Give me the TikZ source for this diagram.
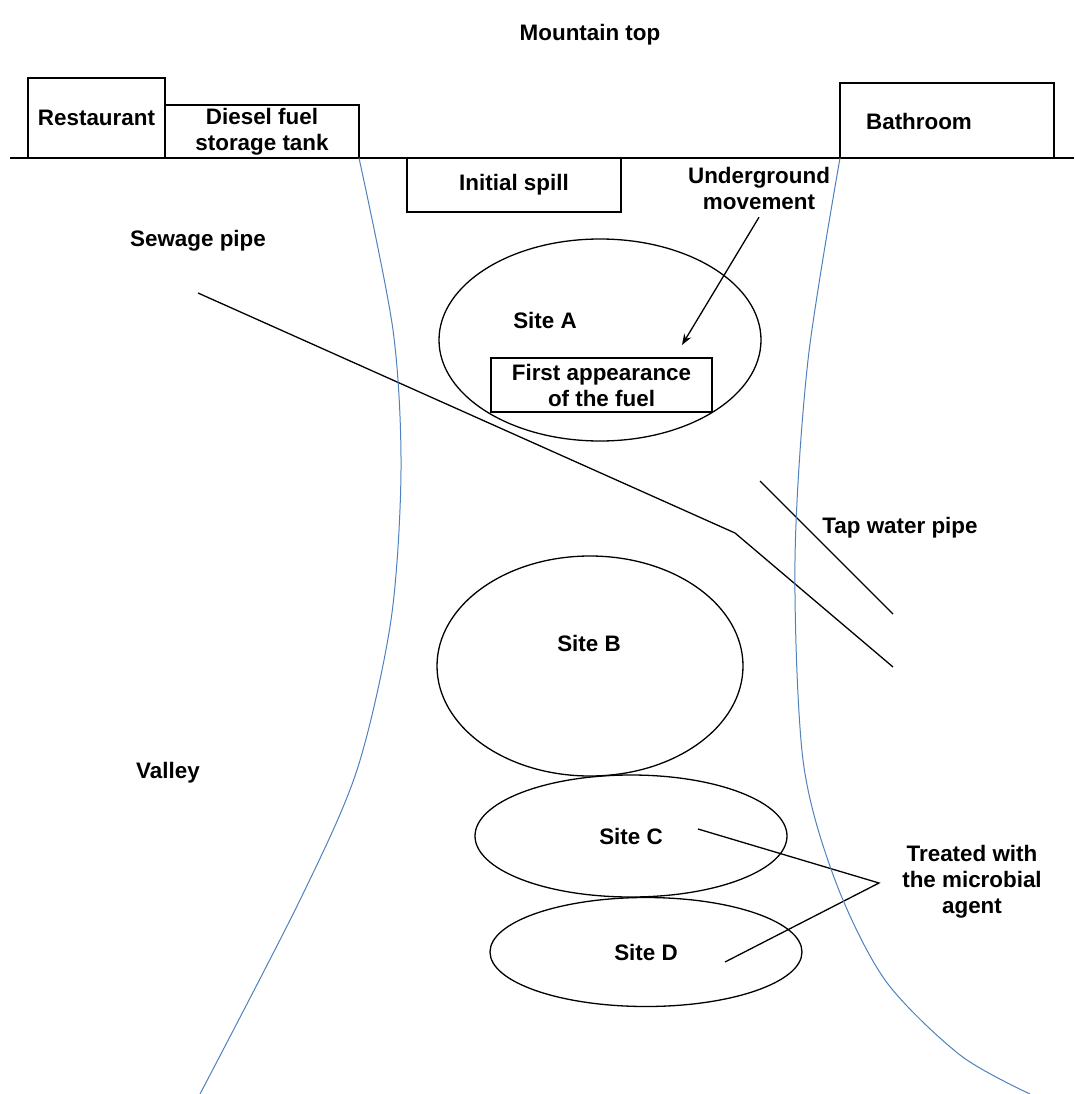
\documentclass[tikz,border=0pt]{standalone}
\usepackage{fontspec}
\setmainfont{Liberation Sans}
\usepackage{xcolor}
\usetikzlibrary{positioning}
\usetikzlibrary{shapes.geometric,arrows.meta}
\definecolor{valleyblue}{RGB}{79,129,189}

\begin{document}
\begin{tikzpicture}[x=1pt, y=-1pt, every node/.style={inner sep=0,outer sep=0, font=\fontsize{22.4}{26}\selectfont\bfseries}, align=center, node distance=0, >={Stealth[length=11pt,width=8pt]},
	box/.style={draw, line width=1.3pt},
	site/.style={draw, ellipse, line width=1.3pt},
	pipe/.style={line width=1.3pt},
	slope/.style={draw=valleyblue, line width=1pt}]
		\useasboundingbox (0,0) rectangle (1074,1094);
		
		%Nodes
		\node (top) at (590,35) {Mountain top};
		\node[box, minimum width=137, minimum height=80] (rest) at (96.5,118) {Restaurant};
		\node[box, minimum width=194, minimum height=53] (tank) [right=of rest.south east, anchor=south west] {Diesel fuel\\storage tank};
		\node[box, minimum width=214, minimum height=75, anchor=south west] (bath) at (840,158) {};
		\node (bathtxt) at (919,121) {Bathroom};
		\node[box, minimum width=214, minimum height=54, anchor=north west] (spill) at (407,158) {Initial spill};
		\node (move) at (759,188) {Underground\\movement};
		\node[site, minimum width=322, minimum height=202] (siteA) at (600,340) {};
		\node (siteAtxt) at (545,320) {Site A};
		\node[box, minimum width=221, minimum height=54] (first) at (601.5,385) {First appearance\\of the fuel};
		\node (sewtxt) at (198,241) {Sewage pipe};
		\node (taptxt) at (900,528) {Tap water pipe};
		\node[site, minimum width=306, minimum height=220] (siteB) at (590,666) {};
		\node (siteBtxt) at (589,643) {Site B};
		\node (valtxt) at (168,773) {Valley};
		\node[site, minimum width=312, minimum height=122] (siteC) at (631,836) {Site C};
		\node[site, minimum width=312, minimum height=109] (siteD) at (646,952) {Site D};
		\node (treat) at (972,882) {Treated with\\the microbial\\agent};
		
		%Points
		\coordinate (gl) at (10,158);
		\coordinate (gr) at (1074,158);
		\coordinate (hit) at (682,345);
		\coordinate (sew1) at (198,293);
		\coordinate (sew2) at (735,533);
		\coordinate (sew3) at (893,667);
		\coordinate (tap1) at (760,481);
		\coordinate (tap2) at (893,614);
		\coordinate (cfrom) at (698,829);
		\coordinate (dfrom) at (725,962);
		\coordinate (fork) at (879,883);
		
		%Lines
		\draw[pipe] (gl) -- (gr);
		\draw[pipe, ->] ([yshift=-8]move.south) -- (hit);
		\draw[pipe] (sew1) -- (sew2) -- (sew3);
		\draw[pipe] (tap1) -- (tap2);
		\draw[pipe] (cfrom) -- (fork) -- (dfrom);
		
		%Valley sides
		\draw[slope] plot[smooth] coordinates {(359,158) (393,330) (401,470) (391,620) (357,770) (300,900) (200,1094)};
		\draw[slope] plot[smooth] coordinates {(840,158) (808,360) (795,560) (803,760) (835,880) (885,980) (960,1055) (1030,1094)};
	\end{tikzpicture}
\end{document}
